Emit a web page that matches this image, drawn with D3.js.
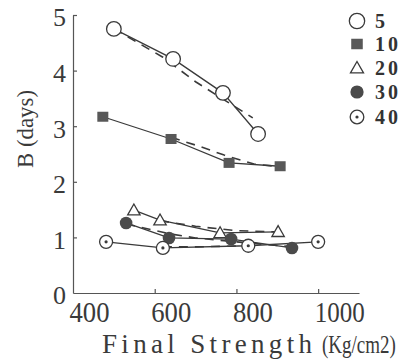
<!DOCTYPE html>
<html><head><meta charset="utf-8">
<script src="https://cdn.jsdelivr.net/npm/d3@7"></script>
<style>body{margin:0;background:#fff}svg{display:block}</style>
</head><body>
<script>
// ---- data ----
const seriesNames = ["5", "10", "20", "30", "40"];
const x5 = [500, 645, 767, 853];   const y5 = [4.75, 4.21, 3.60, 2.86];
const x10 = [473, 640, 782, 907];  const y10 = [3.17, 2.77, 2.34, 2.28];
const x20 = [549, 613, 760, 902];  const y20 = [1.49, 1.31, 1.08, 1.10];
const x30 = [530, 635, 787, 936];  const y30 = [1.26, 0.99, 0.97, 0.81];
const x40 = [481, 620, 829, 1000]; const y40 = [0.92, 0.81, 0.85, 0.92];
// dashed fitted curves
const fx5 = [500, 620, 700, 760, 840];  const fy5 = [4.75, 4.24, 3.80, 3.52, 3.15];
const fx10 = [640, 713, 770, 843, 907]; const fy10 = [2.80, 2.63, 2.48, 2.32, 2.27];
const fx20 = [613, 700, 800, 900];      const fy20 = [1.30, 1.20, 1.12, 1.10];
const fx30 = [530, 640, 700, 800, 936]; const fy30 = [1.24, 1.06, 0.99, 0.92, 0.83];
const fx40 = [620, 700, 830];           const fy40 = [0.83, 0.83, 0.85];
const xTicks = [400, 600, 800, 1000];
const yTicks = [0, 1, 2, 3, 4, 5];
const xTitle = "Final Strength";
const xUnit = "(Kg/cm2)";
const yTitle = "B (days)";

const series = [
  {name: seriesNames[0], xs: x5,  ys: y5,  fx: fx5,  fy: fy5,  sym: "open"},
  {name: seriesNames[1], xs: x10, ys: y10, fx: fx10, fy: fy10, sym: "square"},
  {name: seriesNames[2], xs: x20, ys: y20, fx: fx20, fy: fy20, sym: "tri"},
  {name: seriesNames[3], xs: x30, ys: y30, fx: fx30, fy: fy30, sym: "filled"},
  {name: seriesNames[4], xs: x40, ys: y40, fx: fx40, fy: fy40, sym: "dot"}
];

const W = 401, H = 360;
const svg = d3.select("body").append("svg").attr("width", W).attr("height", H);
const x = d3.scaleLinear().domain([400, 1100]).range([73, 359]);
const y = d3.scaleLinear().domain([0, 5]).range([293, 15]);
const ink = "#3a3a3a";
const serif = "'Liberation Serif', 'DejaVu Serif', serif";

// fit a text into a given width by horizontal scaling
function squeeze(sel, x0, y0, width) {
  const len = sel.node().getComputedTextLength();
  sel.attr("transform", `translate(${x0},${y0}) scale(${width / len},1)`);
}

// axes
const gx = svg.append("g").attr("transform", `translate(0,${y(0)})`)
  .call(d3.axisBottom(x).tickValues(xTicks).tickFormat(d3.format("d")).tickSize(-4).tickSizeOuter(0).tickPadding(0));
gx.selectAll("text").attr("text-anchor", "start").attr("dx", -4).attr("y", 29).attr("dy", 0)
  .style("font-family", serif).style("font-size", "29px").attr("fill", ink)
  .attr("textLength", d => d >= 1000 ? 50 : 40).attr("lengthAdjust", "spacingAndGlyphs");
const gy = svg.append("g").attr("transform", `translate(${x(400)},0)`)
  .call(d3.axisLeft(y).tickValues(yTicks).tickFormat(d3.format("d")).tickSize(-4).tickSizeOuter(0).tickPadding(7));
gy.selectAll("text").attr("dy", "0.42em")
  .style("font-family", serif).style("font-size", "26px").attr("fill", ink);
svg.selectAll(".domain, .tick line").attr("stroke", "#555").attr("stroke-width", 1.2);
gy.selectAll(".tick line").filter(d => d === 0).remove();
gx.selectAll(".tick line").filter(d => d === 400).remove();

// axis titles
svg.append("text").attr("x", 102).attr("y", 353).attr("fill", ink).text(xTitle)
  .style("font-family", serif).style("font-size", "27px")
  .attr("textLength", 210).attr("lengthAdjust", "spacing");
const unit = svg.append("text").attr("fill", ink).text(xUnit)
  .style("font-family", serif).style("font-size", "25px");
squeeze(unit, 322, 353, 74);
svg.append("text").attr("transform", "translate(33,129) rotate(-90)").attr("text-anchor", "middle")
  .text(yTitle).style("font-family", serif).style("font-size", "24px").attr("fill", ink)
  .attr("textLength", 78).attr("lengthAdjust", "spacingAndGlyphs");

// lines
const line = d3.line().x(d => x(d[0])).y(d => y(d[1]));
series.forEach(s => {
  svg.append("path").attr("d", line(s.xs.map((v, i) => [v, s.ys[i]])))
    .attr("fill", "none").attr("stroke", ink).attr("stroke-width", 1.3);
  svg.append("path").attr("d", line(s.fx.map((v, i) => [v, s.fy[i]])))
    .attr("fill", "none").attr("stroke", ink).attr("stroke-width", 1.6).attr("stroke-dasharray", "9,7");
});

function drawSym(g, sym, cx, cy, k) {
  if (sym === "open") {
    g.append("circle").attr("cx", cx).attr("cy", cy).attr("r", 7.3 * k).attr("fill", "#fff").attr("stroke", ink).attr("stroke-width", 1.3);
  } else if (sym === "square") {
    g.append("rect").attr("x", cx - 5.5 * k).attr("y", cy - 5 * k).attr("width", 11 * k).attr("height", 10 * k).attr("fill", "#585858");
  } else if (sym === "tri") {
    const r = 6.2 * k;
    g.append("path").attr("d", `M${cx},${cy - r}L${cx + r},${cy + r * 0.75}L${cx - r},${cy + r * 0.75}Z`)
      .attr("fill", "#fff").attr("stroke", ink).attr("stroke-width", 1.3);
  } else if (sym === "filled") {
    g.append("circle").attr("cx", cx).attr("cy", cy).attr("r", 6.3 * k).attr("fill", "#4a4a4a");
  } else {
    g.append("circle").attr("cx", cx).attr("cy", cy).attr("r", 6.5 * k).attr("fill", "#fff").attr("stroke", ink).attr("stroke-width", 1.3);
    g.append("circle").attr("cx", cx).attr("cy", cy).attr("r", 1.6).attr("fill", ink);
  }
}

const marks = svg.append("g");
series.forEach(s => {
  s.xs.forEach((v, i) => drawSym(marks, s.sym, x(v), y(s.ys[i]), 1));
});

// legend
const leg = svg.append("g");
const legY = [21, 44, 68, 92, 117];
series.forEach((s, i) => {
  drawSym(leg, s.sym, 357, legY[i], 1.05);
  leg.append("text").attr("x", 375).attr("y", legY[i] + 7).text(s.name)
    .style("font-family", serif).style("font-size", "20px").style("font-weight", "bold")
    .attr("fill", "#333").attr("textLength", s.name.length > 1 ? 23 : 10).attr("lengthAdjust", "spacing");
});
</script>
</body></html>
